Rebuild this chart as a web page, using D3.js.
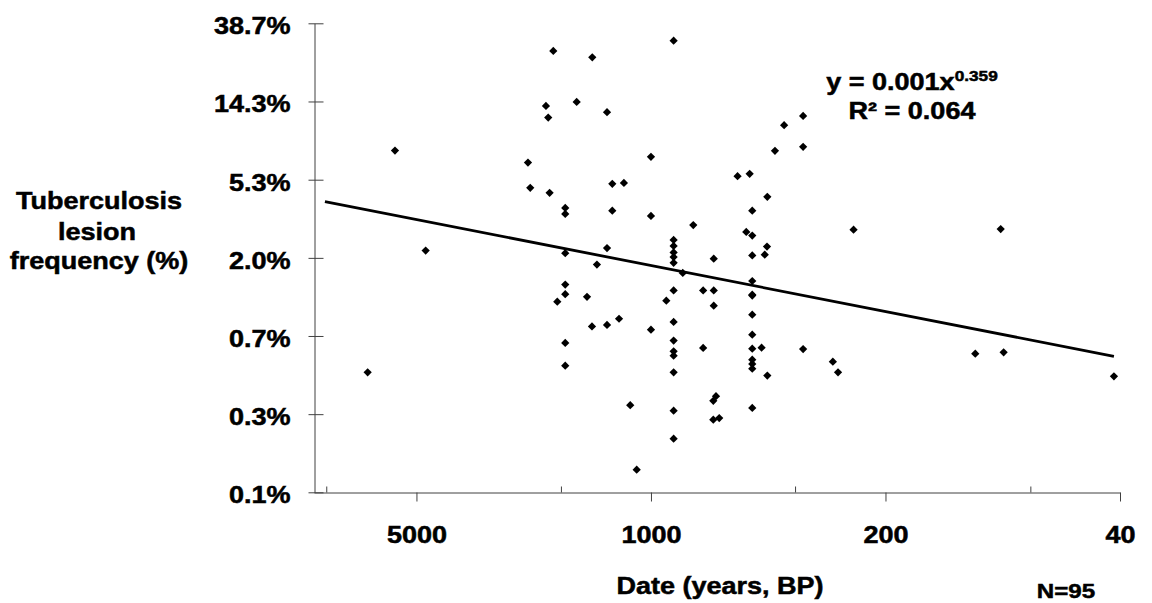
<!DOCTYPE html>
<html>
<head>
<meta charset="utf-8">
<script src="https://cdn.jsdelivr.net/npm/d3@7"></script>
<style>
  body { margin: 0; background: #fff; }
  svg text { font-family: "Liberation Sans", Arial, sans-serif; font-weight: bold; fill: #000; stroke: #000; stroke-width: 0.5px; }
</style>
</head>
<body>
<svg id="chart" width="1152" height="603"></svg>
<script>
// age of each sample (years BP) and its tuberculosis lesion frequency (%)
const ages = [
  5794, 6989, 4694, 2326, 2290, 2056, 2024, 2005, 1955, 1801,
  1801, 1801, 1801, 1801, 1902, 1801, 1801, 1665, 1551, 1496,
  1499, 1449, 1352, 1352, 1352, 1304, 1304, 1245, 1204, 1153,
  1103, 1000, 1000, 1000, 900, 856, 856, 856, 856, 856,
  856, 856, 856, 856, 856, 856, 856, 856, 856, 804,
  748, 699, 699, 650, 650, 650, 640, 652, 652, 626,
  552, 508, 520, 499, 499, 499, 499, 499, 499, 499,
  499, 499, 499, 499, 499, 468, 458, 451, 450, 450,
  427, 401, 352, 352, 352, 287, 277, 249, 108, 90.7,
  88.9, 41.7, 499
];
const freqs = [
  7.63, 0.450, 2.13, 6.55, 4.74, 13.49, 11.62, 4.45, 27.19, 3.67,
  3.40, 2.06, 1.38, 1.22, 1.109, 0.655, 0.490, 14.19, 1.18, 25.09,
  0.809, 1.78, 12.45, 2.20, 0.824, 4.99, 3.54, 0.892, 5.05, 0.296,
  0.130, 7.04, 3.31, 0.776, 1.123, 31.0, 2.44, 2.26, 2.08, 1.96,
  1.82, 1.28, 0.856, 0.675, 0.589, 0.557, 0.450, 0.276, 0.193, 1.60,
  2.95, 1.28, 0.615, 1.28, 1.053, 1.92, 0.332, 0.313, 0.246, 0.251,
  5.50, 5.67, 2.70, 3.54, 2.58, 2.00, 1.444, 1.212, 0.939, 0.728,
  0.609, 0.529, 0.501, 0.472, 0.286, 0.617, 2.02, 2.24, 4.23, 0.432,
  7.60, 10.55, 11.87, 8.00, 0.606, 0.516, 0.450, 2.78, 0.571, 2.80,
  0.581, 0.428, 1.20
];

// power trend line, start and end
const trendAges = [9370, 41.7];
const trendFreqs = [3.98, 0.552];

const xTicks = [5000, 1000, 200, 40];
const xMinorTicks = [9285, 1855, 372, 74];
const yTicks = [38.7, 14.27, 5.26, 1.94, 0.716, 0.264, 0.0974];
const yTickLabels = ["38.7%", "14.3%", "5.3%", "2.0%", "0.7%", "0.3%", "0.1%"];

const svg = d3.select("#chart");
const stretch = 1.15; // the original lettering is drawn wide

const xScale = d3.scaleLog().domain([10100, 40]).range([314, 1120]);
const yScale = d3.scaleLog().domain([0.0974, 38.7]).range([492.3, 23.3]);

const data = ages.map((a, i) => ({ age: a, freq: freqs[i] }));

function label(sel, x, y, txt, size, anchor) {
  return sel.append("text")
    .attr("transform", `translate(${x},${y}) scale(${stretch},1)`)
    .attr("text-anchor", anchor)
    .style("font-size", size + "px")
    .text(txt);
}

// y axis
const yAxisG = svg.append("g")
  .attr("transform", "translate(314.5,0)")
  .call(d3.axisLeft(yScale).tickValues(yTicks).tickSizeOuter(0).tickFormat(""));
yAxisG.selectAll(".tick line").attr("x1", -6).attr("x2", 9);
yAxisG.selectAll(".tick").each(function (d, i) {
  label(d3.select(this), -24, 10.5, yTickLabels[i], 23.5, "end");
});

// x axis, major ticks below, minor ticks above
const xAxisG = svg.append("g")
  .attr("transform", "translate(0,492.5)")
  .call(d3.axisBottom(xScale).tickValues(xTicks).tickSize(9).tickSizeOuter(0).tickFormat(""));
xAxisG.selectAll(".tick").each(function (d) {
  label(d3.select(this), 0, 50.5, String(d), 23.5, "middle");
});
const xMinorG = svg.append("g")
  .attr("transform", "translate(0,492.5)")
  .call(d3.axisBottom(xScale).tickValues(xMinorTicks).tickSize(-6).tickFormat(""));
xMinorG.select(".domain").remove();

svg.selectAll(".domain, .tick line").attr("stroke", "#404040");

// points
svg.append("g")
  .selectAll("path")
  .data(data)
  .enter()
  .append("path")
  .attr("d", d3.symbol(d3.symbolSquare, 34))
  .attr("transform", (d) => `translate(${xScale(d.age)},${yScale(d.freq)}) rotate(45)`)
  .attr("fill", "#000");

// trend line
const trend = trendAges.map((a, i) => [xScale(a), yScale(trendFreqs[i])]);
svg.append("path")
  .attr("d", d3.line()(trend))
  .attr("fill", "none")
  .attr("stroke", "#000")
  .attr("stroke-width", 2.8);

// equation
const eq = label(svg, 912, 90, "y = 0.001x", 23.5, "middle");
eq.append("tspan").attr("dy", -9).style("font-size", "15px").text("0.359");
label(svg, 912, 118.5, "R² = 0.064", 23.5, "middle");

// axis titles
label(svg, 99, 208.5, "Tuberculosis", 23.5, "middle");
label(svg, 97, 239.5, "lesion", 23.5, "middle");
label(svg, 99, 268.5, "frequency (%)", 23.5, "middle");
label(svg, 720, 594, "Date (years, BP)", 23.5, "middle");
label(svg, 1066, 597.5, "N=95", 21, "middle");
</script>
</body>
</html>
